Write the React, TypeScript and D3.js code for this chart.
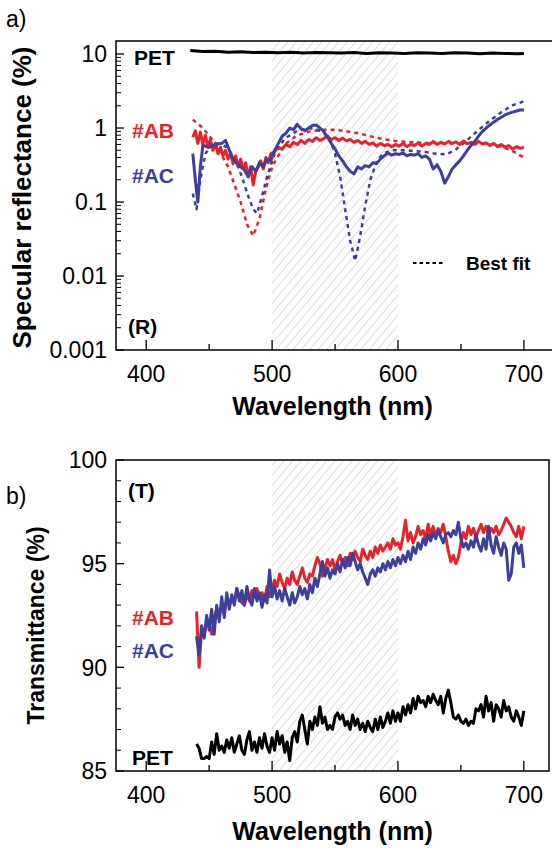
import React from "react";
import * as d3 from "d3";

// ---------- Data ----------
// Top panel (specular reflectance, %), wavelength in nm
const petRWl = [435, 445, 455, 465, 475, 485, 495, 505, 515, 525, 535, 545, 555, 565, 575, 585, 595, 605, 615, 625, 635, 645, 655, 665, 675, 685, 695, 700];
const petRVal = [11.2, 10.8, 10.9, 10.6, 10.7, 10.5, 10.6, 10.4, 10.6, 10.3, 10.5, 10.4, 10.3, 10.5, 10.2, 10.4, 10.3, 10.2, 10.4, 10.3, 10.2, 10.4, 10.3, 10.1, 10.3, 10.2, 10.1, 10.2];

const abRWl = [437, 439, 441, 443, 445, 447, 449, 451, 453, 455, 457, 459, 461, 463, 465, 467, 469, 471, 473, 475, 477, 479, 481, 483, 485, 487, 489, 491, 493, 495, 497, 499, 502, 505, 508, 511, 514, 517, 520, 523, 526, 529, 532, 535, 538, 541, 544, 547, 550, 553, 556, 559, 562, 565, 568, 571, 574, 577, 580, 583, 586, 589, 592, 595, 598, 601, 604, 607, 610, 613, 616, 619, 622, 625, 628, 631, 634, 637, 640, 643, 646, 649, 652, 655, 658, 661, 664, 667, 670, 673, 676, 679, 682, 685, 688, 691, 694, 697, 700];
const abRVal = [0.75, 0.92, 0.62, 0.88, 0.6, 0.8, 0.55, 0.7, 0.5, 0.62, 0.45, 0.55, 0.42, 0.5, 0.38, 0.46, 0.33, 0.42, 0.3, 0.38, 0.28, 0.34, 0.22, 0.3, 0.17, 0.26, 0.3, 0.36, 0.28, 0.4, 0.34, 0.45, 0.48, 0.55, 0.52, 0.6, 0.56, 0.64, 0.6, 0.68, 0.62, 0.7, 0.66, 0.74, 0.68, 0.72, 0.78, 0.7, 0.74, 0.68, 0.73, 0.67, 0.7, 0.64, 0.68, 0.62, 0.66, 0.6, 0.63, 0.57, 0.62, 0.58, 0.6, 0.56, 0.6, 0.57, 0.62, 0.56, 0.6, 0.58, 0.63, 0.57, 0.62, 0.6, 0.66, 0.6, 0.64, 0.61, 0.66, 0.62, 0.65, 0.6, 0.67, 0.62, 0.64, 0.6, 0.66, 0.61, 0.63, 0.58, 0.62, 0.56, 0.6, 0.55, 0.58, 0.52, 0.56, 0.53, 0.55];

const abFitWl = [437, 445, 455, 465, 475, 480, 485, 490, 495, 500, 510, 520, 530, 540, 550, 560, 570, 580, 590, 600, 620, 640, 660, 670, 680, 690, 700];
const abFitVal = [1.3, 1.0, 0.62, 0.3, 0.1, 0.05, 0.035, 0.06, 0.15, 0.3, 0.6, 0.8, 0.9, 0.95, 0.95, 0.9, 0.84, 0.76, 0.7, 0.66, 0.63, 0.62, 0.62, 0.61, 0.57, 0.5, 0.4];

const acRWl = [437, 439, 441, 443, 445, 450, 455, 460, 463, 466, 469, 472, 475, 478, 481, 484, 487, 490, 493, 496, 499, 502, 505, 508, 511, 514, 517, 520, 523, 526, 529, 532, 535, 538, 541, 544, 547, 550, 553, 556, 559, 562, 565, 568, 571, 574, 577, 580, 583, 586, 589, 592, 595, 598, 601, 604, 607, 610, 613, 616, 619, 622, 625, 628, 631, 634, 637, 640, 643, 646, 649, 652, 655, 658, 661, 664, 667, 670, 673, 676, 679, 682, 685, 688, 691, 694, 697, 700];
const acRVal = [0.45, 0.2, 0.1, 0.3, 0.58, 0.55, 0.6, 0.62, 0.68, 0.5, 0.38, 0.33, 0.3, 0.27, 0.22, 0.3, 0.26, 0.34, 0.3, 0.38, 0.36, 0.5, 0.62, 0.78, 0.85, 1.0, 0.95, 1.12, 0.98, 0.92, 1.0, 1.08, 1.1, 1.0, 0.9, 0.75, 0.62, 0.52, 0.42, 0.36, 0.3, 0.26, 0.24, 0.3, 0.28, 0.31, 0.3, 0.34, 0.33, 0.38, 0.42, 0.46, 0.43, 0.45, 0.44, 0.46, 0.42, 0.44, 0.43, 0.45, 0.4, 0.42, 0.38, 0.28, 0.32, 0.26, 0.18, 0.22, 0.28, 0.32, 0.36, 0.42, 0.5, 0.58, 0.66, 0.78, 0.9, 1.0, 1.1, 1.2, 1.3, 1.4, 1.5, 1.58, 1.64, 1.7, 1.75, 1.75];

const acFitWl = [437, 440, 443, 447, 452, 458, 464, 470, 476, 481, 485, 488, 492, 496, 502, 510, 520, 530, 540, 546, 550, 554, 558, 562, 566, 570, 574, 578, 583, 588, 595, 605, 620, 630, 638, 645, 652, 660, 670, 680, 690, 700];
const acFitVal = [0.13, 0.08, 0.2, 0.45, 0.6, 0.62, 0.55, 0.4, 0.22, 0.12, 0.08, 0.07, 0.12, 0.22, 0.45, 0.72, 0.92, 1.0, 0.9, 0.7, 0.45, 0.22, 0.08, 0.03, 0.016, 0.035, 0.09, 0.2, 0.35, 0.45, 0.5, 0.5, 0.48, 0.45, 0.44, 0.5, 0.62, 0.82, 1.15, 1.55, 2.0, 2.3];

// Bottom panel (transmittance, %)
const tWl = [440, 442, 444, 446, 448, 450, 452, 454, 456, 458, 460, 462, 464, 466, 468, 470, 472, 474, 476, 478, 480, 482, 484, 486, 488, 490, 492, 494, 496, 498, 500, 502, 504, 506, 508, 510, 512, 514, 516, 518, 520, 522, 524, 526, 528, 530, 532, 534, 536, 538, 540, 542, 544, 546, 548, 550, 552, 554, 556, 558, 560, 562, 564, 566, 568, 570, 572, 574, 576, 578, 580, 582, 584, 586, 588, 590, 592, 594, 596, 598, 600, 602, 604, 606, 608, 610, 612, 614, 616, 618, 620, 622, 624, 626, 628, 630, 632, 634, 636, 638, 640, 642, 644, 646, 648, 650, 652, 654, 656, 658, 660, 662, 664, 666, 668, 670, 672, 674, 676, 678, 680, 682, 684, 686, 688, 690, 692, 694, 696, 698, 700];
const abT = [92.7, 90.0, 91.8, 91.5, 92.2, 92.0, 91.6, 92.4, 92.8, 92.5, 93.0, 92.6, 93.3, 93.0, 93.4, 93.2, 93.8, 93.4, 93.1, 93.0, 93.5, 93.2, 93.7, 93.4, 93.8, 93.3, 93.6, 93.2, 93.9, 93.4, 93.8, 94.2, 93.9, 94.5, 94.1, 93.8, 94.3, 94.0, 94.6, 94.2, 94.0, 94.4, 94.8, 94.3, 94.1, 94.5, 94.4, 94.9, 95.3, 95.0, 94.4, 94.8, 95.2, 94.9, 95.2, 94.7, 95.1, 95.4, 95.0, 95.3, 94.9, 95.5, 95.2, 95.6, 95.3, 95.1, 95.7, 95.4, 95.2, 95.6, 95.3, 95.8, 95.5, 95.9, 95.6, 95.8, 96.0, 95.7, 96.2, 95.9, 96.0, 95.7, 96.3, 97.1, 96.1, 96.5, 96.0, 96.3, 96.8, 96.4, 96.6, 96.2, 96.9, 96.4, 96.8, 96.3, 96.7, 96.5, 96.9, 96.3, 95.6, 95.1, 95.4, 95.0, 95.3, 96.0, 96.5, 96.2, 96.8, 96.4, 96.7, 96.3, 96.6, 96.9, 96.5, 96.8, 96.4, 96.7, 96.5, 96.8, 96.4, 96.6, 96.9, 97.2, 97.0, 96.8, 96.5, 96.3, 96.8, 96.2, 96.8];
const acT = [91.5, 90.6, 92.0, 91.4, 92.5, 91.8, 92.8, 91.6, 93.0, 92.2, 93.4, 92.4, 93.6, 92.8, 93.5, 93.0, 93.8, 93.2, 93.7, 93.0, 93.9, 93.3, 93.0, 93.8, 93.2, 93.6, 92.9, 93.5, 93.1, 94.7, 93.4, 93.9, 93.3, 93.7, 93.2, 93.8, 93.4, 93.0, 93.6, 93.1, 93.4, 93.9, 93.5, 93.8, 93.3, 94.0, 93.6, 94.3, 93.9, 94.5, 95.1, 94.4, 94.8, 94.3, 94.7, 94.5, 95.0, 94.6, 95.2, 94.8, 95.3, 94.9, 95.5, 95.1, 94.7, 95.0, 94.6, 94.3, 94.0, 94.5, 94.7, 94.4, 94.8, 94.6, 95.0, 94.7, 95.1, 94.8, 95.2, 94.9, 95.3, 95.0, 95.4, 95.1, 95.6, 95.2, 95.8, 95.5, 96.0, 95.7, 96.2, 95.9, 96.4, 96.1, 96.5, 96.2, 96.6, 96.3, 96.0, 96.4, 96.5, 96.3, 96.6, 96.4, 97.0, 96.2, 95.8, 96.0, 95.7, 96.1, 95.8, 96.4, 95.9, 95.6, 96.2, 95.7, 96.8, 95.9, 95.5, 96.3, 95.8, 95.4, 96.0, 95.7, 94.2, 94.5, 95.8, 96.0, 95.5, 95.9, 94.8];
const petT = [86.3, 86.1, 85.6, 85.6, 85.7, 85.6, 86.4, 85.8, 86.8, 86.0, 86.2, 85.9, 86.5, 86.1, 86.6, 85.9, 86.3, 86.7, 86.0, 85.8, 86.5, 86.9, 86.0, 86.4, 85.9, 86.6, 86.1, 86.8, 86.2, 85.9, 86.6, 86.0, 86.9, 86.3, 86.7, 85.9, 86.4, 85.5, 86.6, 86.9, 86.4, 87.4, 87.7, 87.0, 86.3, 87.4, 87.0, 87.6, 87.2, 88.1, 87.3, 87.6, 87.0, 87.2, 87.0, 87.6, 87.8, 87.5, 87.7, 87.2, 87.4, 87.0, 87.7, 87.2, 87.5, 87.0, 87.3, 86.9, 87.4, 87.1, 86.9, 87.5, 87.0, 87.6, 87.1, 87.4, 87.8, 87.3, 87.9, 87.4, 87.8, 87.4, 88.1, 87.7, 88.2, 87.8, 88.5, 88.0, 88.6, 88.3, 88.4, 88.1, 88.6, 88.3, 88.7, 88.4, 88.2, 88.6, 87.8, 88.5, 88.9, 88.3, 87.6, 87.5, 87.7, 87.4, 87.3, 87.5, 87.2, 87.4, 87.3, 88.0, 87.9, 88.2, 87.6, 88.6, 87.9, 88.3, 87.4, 88.2, 88.0, 87.6, 88.4, 87.9, 88.1, 87.6, 87.4, 87.9, 87.6, 87.2, 87.9];

const xTicks = [400, 500, 600, 700];
const xMinor = [450, 550, 650];
const rTicks = [0.001, 0.01, 0.1, 1, 10];
const rTickLabels = ["0.001", "0.01", "0.1", "1", "10"];
const tTicks = [85, 90, 95, 100];
const band = [500, 600];

const RED = "#e8222b";
const BLUE = "#3d3f9c";
const FONT = "'Liberation Sans', Arial, Helvetica, sans-serif";

// ---------- Layout ----------
const L = 116;
const Rtop = 560;
const Rbot = 549;
const topY0 = 41, topY1 = 350;
const botY0 = 460, botY1 = 771;

const xTop = d3.scaleLinear().domain([376, 376 + (Rtop - L) / 1.259]).range([L, Rtop]);
const xBot = d3.scaleLinear().domain([376, 720]).range([L, Rbot]);
const yR = d3.scaleLog().domain([0.001, 15]).range([topY1, topY0]);
const yT = d3.scaleLinear().domain([85, 100]).range([botY1, botY0]);

function lineOf(xs: number[], ys: number[], xsc: any, ysc: any) {
  const g = d3.line<number>().x((_, i) => xsc(xs[i])).y((_, i) => ysc(ys[i]));
  return g(ys) || "";
}

export default function App() {
  const minorLog: number[] = [];
  for (let e = -3; e <= 1; e++) {
    for (let m = 2; m <= 9; m++) {
      const v = m * Math.pow(10, e);
      if (v <= 15) minorLog.push(v);
    }
  }
  const tMinor = d3.range(85, 101).filter((v) => v % 5 !== 0);
  const TICKF = 23;
  const TITLEF = 25;
  const LABF = 21;

  return (
    <div style={{ position: "absolute", left: 0, top: 0 }}>
      <svg width={552} height={848} style={{ display: "block", background: "#fff" }} fontFamily={FONT}>
        <defs>
          <pattern id="hatch" patternUnits="userSpaceOnUse" width={6.5} height={6.5} patternTransform="rotate(40)">
            <line x1={0} y1={0} x2={0} y2={6.5} stroke="#cdcdcd" strokeWidth={1.3} />
          </pattern>
          <clipPath id="clipTop"><rect x={L} y={topY0} width={Rtop - L} height={topY1 - topY0} /></clipPath>
          <clipPath id="clipBot"><rect x={L} y={botY0} width={Rbot - L} height={botY1 - botY0} /></clipPath>
        </defs>

        {/* ===== Panel a ===== */}
        <text x={6} y={27} fontSize={23}>a)</text>
        <rect x={xTop(band[0])} y={topY0} width={xTop(band[1]) - xTop(band[0])} height={topY1 - topY0} fill="url(#hatch)" />
        <g clipPath="url(#clipTop)" fill="none" strokeLinejoin="round">
          <path d={lineOf(petRWl, petRVal, xTop, yR)} stroke="#000" strokeWidth={3} />
          <path d={lineOf(abFitWl, abFitVal, xTop, yR)} stroke={RED} strokeWidth={2.5} strokeDasharray="4,4" />
          <path d={lineOf(acFitWl, acFitVal, xTop, yR)} stroke={BLUE} strokeWidth={2.5} strokeDasharray="4,4" />
          <path d={lineOf(abRWl, abRVal, xTop, yR)} stroke={RED} strokeWidth={3} />
          <path d={lineOf(acRWl, acRVal, xTop, yR)} stroke={BLUE} strokeWidth={3} />
        </g>
        <path d={`M${Rtop},${topY0}H${L}V${topY1}H${Rtop}`} fill="none" stroke="#000" strokeWidth={1.5} />
        {rTicks.map((t, i) => (
          <g key={t}>
            <line x1={L} x2={L + 8} y1={yR(t)} y2={yR(t)} stroke="#000" strokeWidth={1.3} />
            <text x={107} y={yR(t)} dy="0.36em" textAnchor="end" fontSize={TICKF}>{rTickLabels[i]}</text>
          </g>
        ))}
        {minorLog.map((t) => (
          <line key={t} x1={L} x2={L + 5} y1={yR(t)} y2={yR(t)} stroke="#000" strokeWidth={1} />
        ))}
        {xTicks.map((t) => (
          <g key={t}>
            <line x1={xTop(t)} x2={xTop(t)} y1={topY1} y2={topY1 - 10} stroke="#000" strokeWidth={1.3} />
            <text x={xTop(t)} y={topY1 + 32} textAnchor="middle" fontSize={TICKF}>{t}</text>
          </g>
        ))}
        {xMinor.map((t) => (
          <line key={t} x1={xTop(t)} x2={xTop(t)} y1={topY1} y2={topY1 - 6} stroke="#000" strokeWidth={1.3} />
        ))}
        <text transform={`translate(31,${(topY0 + topY1) / 2 + 2}) rotate(-90)`} textAnchor="middle" fontSize={26} fontWeight="bold">Specular reflectance (%)</text>
        <text x={(L + Rbot) / 2} y={415} textAnchor="middle" fontSize={TITLEF} fontWeight="bold">Wavelength (nm)</text>

        <text x={134} y={65} fontSize={LABF} fontWeight="bold">PET</text>
        <text x={132} y={138} fontSize={LABF} fontWeight="bold" fill={RED}>#AB</text>
        <text x={132} y={183} fontSize={LABF} fontWeight="bold" fill={BLUE}>#AC</text>
        <text x={128} y={334} fontSize={LABF} fontWeight="bold">(R)</text>
        <line x1={413} x2={443} y1={263} y2={263} stroke="#000" strokeWidth={2} strokeDasharray="3.5,3" />
        <text x={466} y={270} fontSize={19} fontWeight="bold">Best fit</text>

        {/* ===== Panel b ===== */}
        <text x={6} y={504} fontSize={23}>b)</text>
        <rect x={xBot(band[0])} y={botY0} width={xBot(band[1]) - xBot(band[0])} height={botY1 - botY0} fill="url(#hatch)" />
        <g clipPath="url(#clipBot)" fill="none" strokeLinejoin="round">
          <path d={lineOf(tWl, petT, xBot, yT)} stroke="#000" strokeWidth={3} />
          <path d={lineOf(tWl, abT, xBot, yT)} stroke={RED} strokeWidth={3} />
          <path d={lineOf(tWl, acT, xBot, yT)} stroke={BLUE} strokeWidth={3} />
        </g>
        <rect x={L} y={botY0} width={Rbot - L} height={botY1 - botY0} fill="none" stroke="#000" strokeWidth={1.5} />
        {tTicks.map((t) => (
          <g key={t}>
            <line x1={L} x2={L + 8} y1={yT(t)} y2={yT(t)} stroke="#000" strokeWidth={1.3} />
            <text x={107} y={yT(t)} dy="0.36em" textAnchor="end" fontSize={TICKF}>{t}</text>
          </g>
        ))}
        {tMinor.map((t) => (
          <line key={t} x1={L} x2={L + 5} y1={yT(t)} y2={yT(t)} stroke="#000" strokeWidth={1} />
        ))}
        {xTicks.map((t) => (
          <g key={t}>
            <line x1={xBot(t)} x2={xBot(t)} y1={botY1} y2={botY1 - 10} stroke="#000" strokeWidth={1.3} />
            <text x={xBot(t)} y={botY1 + 32} textAnchor="middle" fontSize={TICKF}>{t}</text>
          </g>
        ))}
        {xMinor.map((t) => (
          <line key={t} x1={xBot(t)} x2={xBot(t)} y1={botY1} y2={botY1 - 6} stroke="#000" strokeWidth={1.3} />
        ))}
        <text transform={`translate(44,${(botY0 + botY1) / 2 + 10}) rotate(-90)`} textAnchor="middle" fontSize={23} fontWeight="bold">Transmittance (%)</text>
        <text x={(L + Rbot) / 2} y={840} textAnchor="middle" fontSize={TITLEF} fontWeight="bold">Wavelength (nm)</text>

        <text x={128} y={498} fontSize={LABF} fontWeight="bold">(T)</text>
        <text x={132} y={625} fontSize={LABF} fontWeight="bold" fill={RED}>#AB</text>
        <text x={132} y={658} fontSize={LABF} fontWeight="bold" fill={BLUE}>#AC</text>
        <text x={132} y={765} fontSize={LABF} fontWeight="bold">PET</text>
      </svg>
    </div>
  );
}
